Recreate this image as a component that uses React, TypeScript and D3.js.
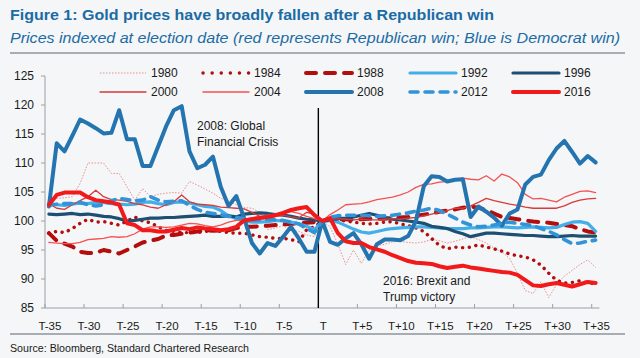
import React from "react";
import * as d3 from "d3";

const W = 640;
const H = 358;

// Days relative to election date T
const days: number[] = d3.range(-35, 36);

const years = ["1980", "1984", "1988", "1992", "1996", "2000", "2004", "2008", "2012", "2016"];

const s1980 = [103,103.9,104,104.2,106.5,110,110,110,108.2,108.2,105.9,103.6,105.6,104.2,104.6,104.8,104.9,104.8,106.8,106.2,105.5,104.8,103.9,103.5,102.8,102.3,102.2,101.5,98.5,98.8,99.2,98.4,98.2,97.6,97.3,100,
  99,96,92.5,95,92.7,95,95.7,96,96.4,96.5,96.3,96.2,96.4,96.8,96.6,96.2,96.5,96.9,97.3,96.8,96.2,95.3,94.7,93.5,91,88,87.5,89.5,86.8,89,90.5,91.5,92.5,93.3,92];
const s1984 = [97.9,98.2,98,98.7,99.6,100.3,99.8,99.9,99.6,99.3,100,100.7,100,99.7,99,98.4,98.2,98,98,98,98.2,98.4,98.2,98,97.9,97.9,97.6,97.3,97.2,97,97,96.8,96.4,98.5,99,100,
  100.1,100.2,100,99.8,99.6,99.5,99.6,99.8,99.9,99.5,99.2,98.8,98.2,97,95.8,95.2,95.5,95.4,95.5,95.9,95.5,95.2,94.8,94.3,94,93.8,93.3,92.4,91,89.8,89.3,89.4,89.7,89.3,89.2];
const s1988 = [97.9,96.6,96.1,95.6,94.7,94.5,94.5,95,94.7,94.4,95,95.6,96.3,96.6,96.9,97.5,97.6,97.8,98,98.2,98.4,98.3,98.4,98.4,98.8,99,99,99.1,99.2,99.3,99.4,99.5,99.6,99.7,99.8,100,
  100.2,100.3,100.3,100.2,100.3,100.4,100.4,100.4,100.5,100.6,100.7,100.9,101.1,101.3,101.6,101.8,102,102.3,102.5,102.3,101.9,101.3,100.7,100.5,100.3,100.1,99.9,99.8,99.7,99.5,99.3,99.1,98.6,98.2,98];
const s1992 = [103,102.8,102.7,102.9,103.1,103,103.2,103.2,103,102.9,102.8,102.9,103.2,103.3,103,102.8,103.2,103.3,103.1,102.8,102.5,102.4,101.8,100.9,100.4,100,99.8,99.8,99.9,100.1,100,99.8,99.5,99.1,98.5,100,
  100.1,99.8,99.2,98.6,98.1,97.9,98.2,98.5,98.7,98.8,98.9,99,99,98.9,98.8,98.7,98.7,98.7,98.8,98.8,98.9,99,99,98.9,98.8,98.9,99,98.9,98.8,98.9,99.4,99.8,99.9,99.6,98.2];
const s1996 = [101.2,101.1,101.2,101.3,101.1,101.2,101,100.8,100.7,100.4,100,100.1,100.3,100.5,100.5,100.6,100.6,100.7,100.8,100.9,101,100.8,100.8,100.9,100.7,101.2,101.3,101.4,101.3,101.1,101,100.8,100.5,100.3,100.2,100,
  100.2,100.4,100.5,100.7,101,101.3,101,100.6,100.3,100.2,100,99.8,99.6,99.1,98.9,98.7,98.2,97.8,97.3,97.6,97.9,97.9,97.8,97.7,97.6,97.5,97.5,97.4,97.3,97.3,97.4,97.5,97.4,97.4,97.4];
const s2000 = [103,102.2,102,102.8,103.5,104.2,105.3,104.2,103.7,103.6,103.4,103,102.8,102.4,102.2,102.8,103.3,104.5,103.3,102.9,102.8,102.7,102.4,102.3,102.2,102.1,101.5,100.8,100.5,100.8,101,100.7,100.5,101.5,101.2,100,
  100.2,100.4,100.3,100.2,100.3,100.2,100.2,100.3,100.4,100.3,100.5,100.6,100.9,101.2,101.5,101.8,102.2,102.2,102.6,103.2,103.9,103.5,103.2,102.9,102.7,102.4,102.2,102.2,102.2,102.2,102.6,103.2,103.6,103.8,103.9];
const s2004 = [96.3,96.2,96.1,96.1,96.3,96.8,96.9,97,97.3,97.2,97.3,97.8,98.6,99,99,98.9,99,99.3,99.6,99.5,99.2,99,99.3,99.8,100.1,100.3,100.6,100.8,101,101.2,101.4,101.6,101.3,100.8,100.4,100,
  101.1,101.9,102.8,102.9,103,103.3,103.7,103.9,104.1,104.5,105,105.8,106.3,106.4,106.7,106.8,107,107.4,107.2,107.1,107.8,106.9,108.1,107.6,106.6,104.6,103.8,103.9,103.6,103.3,104.1,104.6,105.1,105.2,104.9];
const s2008 = [102.5,113.4,112,114.7,117.5,116.8,116,115.1,115.2,119.1,114.1,114.1,109.5,109.5,112.9,116.3,119.1,119.8,112,109.1,109.7,111.1,105.9,102.6,104.3,100.5,96.2,94.4,96.2,95.7,97.3,99,97,94.7,94.7,100,
  96.4,95.9,97,97.9,96,93.5,96,96.8,96.8,96.7,97.4,100,106,107.7,107.6,106.8,107.1,107.2,100.7,102.5,101.6,100.6,99.2,101.3,102,106.3,107.6,108,110.5,112.5,113.8,111.9,109.9,111.2,110.1];
const s2012 = [102.7,102.9,103,103,103.2,102.8,102.6,102.8,103.5,103.9,103.7,103.5,103.6,104.2,103.6,103.3,103.4,103.5,102.7,102,101.5,101.3,101.1,100.8,100.6,100.4,100.2,100.2,100.3,100.2,100.1,99.8,99.5,98.7,98,100,
  100.6,100.9,101,101,101,100.9,100.8,100.9,101,101.2,101.4,101.7,101.9,102.2,101.8,101.2,100.5,99.8,99.3,99,99.1,99.3,99.6,99.8,99.6,99.4,99.2,98.7,98.2,97.6,96.8,96.1,96.2,96.5,96.7];
const s2016 = [102.8,104.5,104.9,104.9,104.9,104.1,103.6,103.4,103.2,102.8,99.6,99.3,98.4,98.4,98.2,98.2,98.5,98.8,98.6,98.9,98.7,98.6,98.4,98.6,99,100.1,100.3,100.5,100.7,101,101.4,101.9,102.2,102.4,101,100,
  100.5,97.9,96.5,96.2,96.2,95.5,95.1,94.7,94.1,93.6,93.1,92.8,92.7,92.6,92.2,91.9,92.1,92.3,92,91.8,91.6,91.4,91.2,91.1,90.7,89.8,88.9,88.8,89.1,89.3,89,88.7,89.1,89.5,89.3];

const seriesValues = [s1980, s1984, s1988, s1992, s1996, s2000, s2004, s2008, s2012, s2016];

const yTicks = [85, 90, 95, 100, 105, 110, 115, 120, 125];
const xTickDays = [-35, -30, -25, -20, -15, -10, -5, 0, 5, 10, 15, 20, 25, 30, 35];
const xTickLabel = (d: number) => (d === 0 ? "T" : d < 0 ? `T${d}` : `T+${d}`);

const titleText = "Figure 1: Gold prices have broadly fallen after a Republican win";
const subtitleText = "Prices indexed at election date (red represents Republican win; Blue is Democrat win)";
const sourceText = "Source: Bloomberg, Standard Chartered Research";
const note2008 = ["2008: Global", "Financial Crisis"];
const note2016 = ["2016: Brexit and", "Trump victory"];

type Sty = { color: string; width: number; dash?: string; cap: "butt" | "round" };
const styles: Record<string, Sty> = {
  "1980": { color: "#ef8e8e", width: 1, dash: "1.5,1.5", cap: "butt" },
  "1984": { color: "#b30d0d", width: 3.4, dash: "0.1,6.6", cap: "round" },
  "1988": { color: "#b30d0d", width: 4, dash: "10,9", cap: "round" },
  "1992": { color: "#44aee8", width: 3.2, cap: "round" },
  "1996": { color: "#1d4f73", width: 3.2, cap: "round" },
  "2000": { color: "#d63a3a", width: 1.3, cap: "round" },
  "2004": { color: "#f45252", width: 1.3, cap: "round" },
  "2008": { color: "#2474b0", width: 4, cap: "round" },
  "2012": { color: "#3193d8", width: 3.6, dash: "8,7", cap: "round" },
  "2016": { color: "#f2191b", width: 4, cap: "round" },
};

const FONT = "'Liberation Sans', Arial, Helvetica, sans-serif";
const BLUE = "#1b6ba6";

export default function App() {
  const x = d3.scaleLinear().domain([-35.5, 35.5]).range([45, 599.5]);
  const y = d3.scaleLinear().domain([85, 125]).range([308, 76]);
  const line = d3
    .line<number>()
    .x((_, i) => x(days[i]))
    .y((v) => y(v));

  const legendCols = [100, 203, 306, 410, 513];
  const legendRows = [73, 92];

  return (
    <svg
      width={W}
      height={H}
      viewBox={`0 0 ${W} ${H}`}
      style={{ position: "absolute", left: 0, top: 0, display: "block" }}
      fontFamily={FONT}
    >
      <rect x={0} y={0} width={W} height={H} fill="#f4f6f7" />
      <text x={10} y={20} fontSize={15.5} fontWeight="bold" fill={BLUE} textLength={484} lengthAdjust="spacingAndGlyphs">
        {titleText}
      </text>
      <text x={10} y={43} fontSize={14} fontStyle="italic" fill={BLUE} textLength={610} lengthAdjust="spacingAndGlyphs">
        {subtitleText}
      </text>
      <line x1={10} x2={625} y1={53} y2={53} stroke="#8e959b" strokeWidth={1.6} />

      {/* legend */}
      {years.map((yr, i) => {
        const cx = legendCols[i % 5];
        const cy = legendRows[Math.floor(i / 5)];
        const s = styles[yr];
        return (
          <g key={yr}>
            <line
              x1={cx}
              x2={cx + 46}
              y1={cy}
              y2={cy}
              stroke={s.color}
              strokeWidth={s.width}
              strokeDasharray={yr === "1984" ? "0.1,9" : s.dash}
              strokeLinecap={s.cap}
            />
            <text x={cx + 51} y={cy + 4.3} fontSize={12} fill="#1a1a1a">
              {yr}
            </text>
          </g>
        );
      })}

      {/* axes */}
      <line x1={45} x2={45} y1={76} y2={308} stroke="#9aa0a6" strokeWidth={1} />
      {yTicks.map((t) => (
        <g key={t}>
          <line x1={41} x2={45} y1={y(t)} y2={y(t)} stroke="#9aa0a6" />
          <text x={34} y={y(t) + 4.3} fontSize={12} textAnchor="end" fill="#1a1a1a">
            {t}
          </text>
        </g>
      ))}
      <line x1={45} x2={599.5} y1={308} y2={308} stroke="#9aa0a6" strokeWidth={1} />
      {xTickDays.map((d) => (
        <g key={d}>
          <line x1={x(d - 0.5)} x2={x(d - 0.5)} y1={304} y2={308} stroke="#9aa0a6" />
          <text x={x(d) + 1} y={330} fontSize={11.5} textAnchor="middle" fill="#1a1a1a">
            {xTickLabel(d)}
          </text>
        </g>
      ))}

      {/* election day line */}
      <line x1={x(-0.5)} x2={x(-0.5)} y1={108} y2={308} stroke="#000" strokeWidth={1.4} />

      {/* series */}
      {years.map((yr, i) => {
        const s = styles[yr];
        return (
          <path
            key={yr}
            d={line(seriesValues[i]) || ""}
            fill="none"
            stroke={s.color}
            strokeWidth={s.width}
            strokeDasharray={s.dash}
            strokeLinecap={s.cap}
            strokeLinejoin="round"
          />
        );
      })}

      {/* annotations */}
      {note2008.map((t, i) => (
        <text key={t} x={197} y={130 + i * 16} fontSize={12} fill="#1a1a1a">
          {t}
        </text>
      ))}
      {note2016.map((t, i) => (
        <text key={t} x={383} y={285 + i * 16} fontSize={12} fill="#1a1a1a">
          {t}
        </text>
      ))}

      <line x1={10} x2={625} y1={334} y2={334} stroke="#8e959b" strokeWidth={1.6} />
      <text x={10} y={352} fontSize={11} fill="#1a1a1a" textLength={239} lengthAdjust="spacingAndGlyphs">
        {sourceText}
      </text>
    </svg>
  );
}
